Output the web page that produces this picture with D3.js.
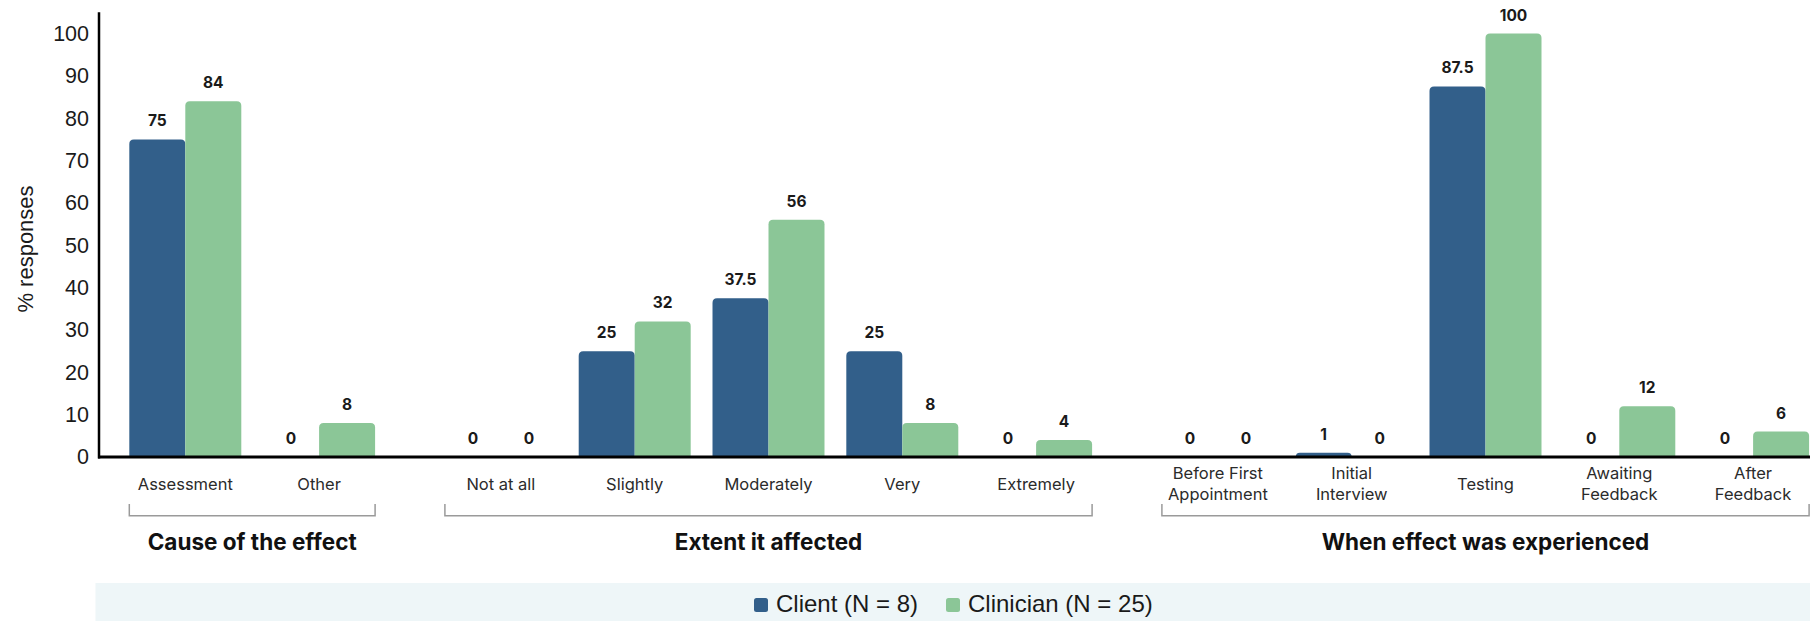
<!DOCTYPE html>
<html>
<head>
<meta charset="utf-8">
<script src="https://cdn.jsdelivr.net/npm/d3@7"></script>
<style>
  html, body { margin: 0; padding: 0; background: #ffffff; }
  svg { display: block; }
</style>
</head>
<body>
<svg id="chart" width="1810" height="621"></svg>
<script>
// ---- data ----
const causeCategories = ["Assessment", "Other"];
const extentCategories = ["Not at all", "Slightly", "Moderately", "Very", "Extremely"];
const whenCategories = ["Before First\nAppointment", "Initial\nInterview", "Testing", "Awaiting\nFeedback", "After\nFeedback"];
const groupTitles = ["Cause of the effect", "Extent it affected", "When effect was experienced"];

const clientCause = [75, 0];
const clinicianCause = [84, 8];
const clientExtent = [0, 25, 37.5, 25, 0];
const clinicianExtent = [0, 32, 56, 8, 4];
const clientWhen = [0, 1, 87.5, 0, 0];
const clinicianWhen = [0, 0, 100, 12, 6];

const seriesKeys = ["client", "clinician"];
const seriesLabels = ["Client (N = 8)", "Clinician (N = 25)"];
const yTicks = [0, 10, 20, 30, 40, 50, 60, 70, 80, 90, 100];

// ---- styling / layout ----
const W = 1810, H = 621;
const colors = { client: "#325f8a", clinician: "#8bc697" };
const axisX = 99;
const baseY = 457;
const firstGroupStart = 118.4;
const step = 133.8;
const groupGap = 48;
const pad = 0.163;

const groups = [
  { title: groupTitles[0], cats: causeCategories, client: clientCause, clinician: clinicianCause },
  { title: groupTitles[1], cats: extentCategories, client: clientExtent, clinician: clinicianExtent },
  { title: groupTitles[2], cats: whenCategories, client: clientWhen, clinician: clinicianWhen }
];

const svg = d3.select("#chart");

const y = d3.scaleLinear().domain([0, 105]).range([baseY, baseY - 105 * 4.235]);

// one band scale per group, each with the same step
let start = firstGroupStart;
groups.forEach(g => {
  g.x = d3.scaleBand()
    .domain(g.cats)
    .range([start, start + g.cats.length * step])
    .paddingInner(pad)
    .paddingOuter(pad / 2);
  start += g.cats.length * step + groupGap;
});
const inner = d3.scaleBand().domain(seriesKeys).range([0, groups[0].x.bandwidth()]).padding(0);

// rounded-top bar path
function barPath(x0, w, yTop, yBot, r) {
  const h = yBot - yTop;
  if (h <= 0) return "";
  r = Math.min(r, h, w / 2);
  return `M${x0},${yBot}V${yTop + r}Q${x0},${yTop} ${x0 + r},${yTop}H${x0 + w - r}Q${x0 + w},${yTop} ${x0 + w},${yTop + r}V${yBot}Z`;
}

// legend band
svg.append("rect")
  .attr("x", 95.5).attr("y", 583)
  .attr("width", W - 95.5).attr("height", H - 583)
  .attr("fill", "#eef6f8");

// bars and value labels
groups.forEach(g => {
  const rows = g.cats.map((c, i) => ({ cat: c, client: g.client[i], clinician: g.clinician[i] }));
  const cat = svg.append("g").selectAll("g")
    .data(rows).join("g")
    .attr("transform", d => `translate(${g.x(d.cat)},0)`);

  const cells = cat.selectAll("g.cell")
    .data(d => seriesKeys.map(k => ({ key: k, value: d[k] })))
    .join("g").attr("class", "cell");

  cells.append("path")
    .attr("d", d => barPath(inner(d.key), inner.bandwidth(), y(d.value), y(0), 4.5))
    .attr("fill", d => colors[d.key]);

  cells.append("text")
    .attr("x", d => inner(d.key) + inner.bandwidth() / 2)
    .attr("y", d => y(d.value) - 13)
    .attr("text-anchor", "middle")
    .attr("font-family", "Inter, 'Noto Sans', sans-serif")
    .attr("font-weight", 700)
    .attr("font-size", 15.5)
    .attr("fill", "#1a1a1a")
    .text(d => d3.format("~g")(d.value));

  // category labels
  cat.append("text")
    .attr("text-anchor", "middle")
    .attr("x", g.x.bandwidth() / 2)
    .attr("font-family", "Inter, 'Noto Sans', sans-serif")
    .attr("font-size", 16.5)
    .attr("fill", "#2b2b2b")
    .each(function(d) {
      const lines = d.cat.split("\n");
      const t = d3.select(this);
      const y0 = lines.length === 1 ? 490 : 479;
      lines.forEach((ln, i) => {
        t.append("tspan").attr("x", g.x.bandwidth() / 2).attr("y", y0 + i * 21).text(ln);
      });
    });

  // group bracket
  const x1 = g.x(g.cats[0]);
  const x2 = g.x(g.cats[g.cats.length - 1]) + g.x.bandwidth();
  svg.append("path")
    .attr("d", `M${x1},504V515.7H${x2}V504`)
    .attr("fill", "none")
    .attr("stroke", "#9a9a9a")
    .attr("stroke-width", 1.5);

  svg.append("text")
    .attr("x", (x1 + x2) / 2)
    .attr("y", 550)
    .attr("text-anchor", "middle")
    .attr("font-family", "Inter, 'Noto Sans', sans-serif")
    .attr("font-weight", 700)
    .attr("font-size", 22.5)
    .attr("fill", "#111")
    .text(g.title);
});

// y axis
const yAxis = svg.append("g")
  .attr("transform", `translate(${axisX},0)`)
  .call(d3.axisLeft(y).tickValues(yTicks).tickSize(0).tickPadding(10));
yAxis.select(".domain").remove();
yAxis.selectAll("text")
  .attr("font-family", "'Liberation Sans', Arial, sans-serif")
  .attr("font-size", 21.5)
  .attr("fill", "#1a1a1a");

svg.append("line")
  .attr("x1", axisX).attr("x2", axisX)
  .attr("y1", y(105)).attr("y2", baseY + 1.5)
  .attr("stroke", "#000").attr("stroke-width", 2.5);

svg.append("line")
  .attr("x1", axisX - 1).attr("x2", W)
  .attr("y1", baseY).attr("y2", baseY)
  .attr("stroke", "#000").attr("stroke-width", 3);

svg.append("text")
  .attr("transform", `translate(33,249) rotate(-90)`)
  .attr("text-anchor", "middle")
  .attr("font-family", "'Liberation Sans', Arial, sans-serif")
  .attr("font-size", 22)
  .attr("fill", "#1a1a1a")
  .text("% responses");

// legend
const legend = svg.append("g").attr("transform", "translate(754,0)");
const legendX = [0, 192];
seriesKeys.forEach((k, i) => {
  const lg = legend.append("g").attr("transform", `translate(${legendX[i]},0)`);
  lg.append("rect")
    .attr("x", 0).attr("y", 598)
    .attr("width", 14).attr("height", 14)
    .attr("rx", 2.5)
    .attr("fill", colors[k]);
  lg.append("text")
    .attr("x", 22).attr("y", 612)
    .attr("font-family", "'Liberation Sans', Arial, sans-serif")
    .attr("font-size", 24)
    .attr("fill", "#1a1a1a")
    .text(seriesLabels[i]);
});
</script>
</body>
</html>
